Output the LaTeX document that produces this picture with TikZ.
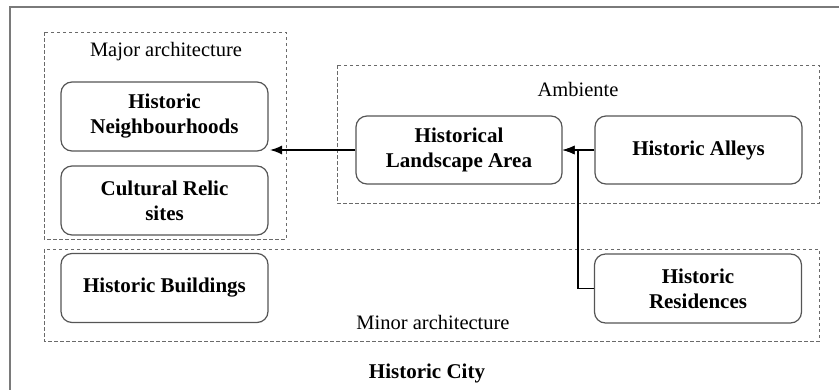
\documentclass[tikz,border=0pt]{standalone}
\usepackage{fontspec}
\setmainfont{Liberation Serif}
\usetikzlibrary{arrows.meta}
\begin{document}
\begin{tikzpicture}[x=1pt,y=-1pt,font=\fontsize{20.5}{23}\selectfont,
  sitebox/.style={draw=boxgrey,line width=1.2pt,rounded corners=11pt,align=center,
    minimum width=207pt,minimum height=69pt,inner sep=2pt,font=\fontsize{21}{25}\selectfont\bfseries},
  groupbox/.style={draw=dashgrey,line width=1pt,dash pattern=on 3.5pt off 2.5pt},
  grouplabel/.style={inner sep=0pt},
  link/.style={black,line width=1.5pt,-{Latex[length=12pt,width=9pt]}}]
\definecolor{boxgrey}{HTML}{555555}
\definecolor{dashgrey}{HTML}{6A6A6A}
\definecolor{framegrey}{HTML}{7A7A7A}
\useasboundingbox (0,0) rectangle (839,389);
\clip (0,0) rectangle (839,389);
% outer frame, open to the right and bottom
\draw[framegrey,line width=1.5pt] (10,7) rectangle (860,410);
% groups
\draw[groupbox] (44,32) rectangle (286,239);
\node[grouplabel] (majorlbl) at (166,52) {Major architecture};
\draw[groupbox] (337,65) rectangle (819,203);
\node[grouplabel] (ambientelbl) at (578,89) {Ambiente};
\draw[groupbox] (44,249) rectangle (819,341);
\node[grouplabel] (minorlbl) at (433,322) {Minor architecture};
% sites
\node[sitebox] (nbr) at (164.5,116.5) {Historic\\Neighbourhoods};
\node[sitebox] (relic) at (164.5,200.5) {Cultural Relic\\sites};
\node[sitebox] (bldg) at (164.5,288) {Historic Buildings};
\node[sitebox,minimum width=206pt,minimum height=68pt] (hla) at (459,150) {Historical\\Landscape Area};
\node[sitebox,minimum height=68pt] (alley) at (698.5,150) {Historic Alleys};
\node[sitebox] (resid) at (698,288.5) {Historic\\Residences};
\coordinate (nbrin) at (270,150);
% links
\draw[link] (hla.west) -- (nbrin);
\draw[link] (alley.west) -- (hla.east);
\draw[link] (resid.west) -- ++(-16,0) |- (hla.east);
\node[inner sep=0pt,font=\fontsize{21}{23}\selectfont\bfseries] (citylbl) at (427,373) {Historic City};
\end{tikzpicture}
\end{document}
